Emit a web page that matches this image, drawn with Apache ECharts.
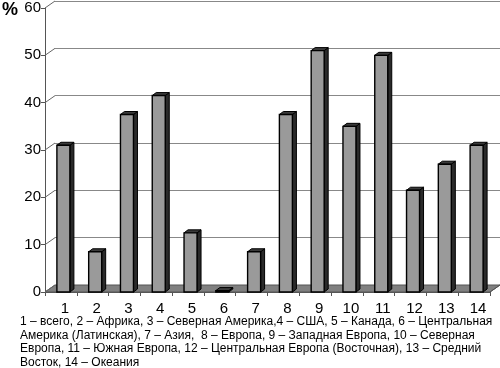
<!DOCTYPE html>
<html>
<head>
<meta charset="utf-8">
<script src="https://cdn.jsdelivr.net/npm/echarts@6/dist/echarts.min.js"></script>
<style>
html,body{margin:0;padding:0;background:#fff;}
#chart{width:500px;height:368px;}
</style>
</head>
<body>
<div id="chart"></div>
<script>
var categories = ['1','2','3','4','5','6','7','8','9','10','11','12','13','14'];
var values = [31, 8.5, 37.5, 41.5, 12.5, 0.3, 8.5, 37.5, 51, 35, 50, 21.5, 27, 31];
var yTicks = [0, 10, 20, 30, 40, 50, 60];
var captionLines = [
  '1 – всего, 2 – Африка, 3 – Северная Америка,4 – США, 5 – Канада, 6 – Центральная',
  'Америка (Латинская), 7 – Азия,  8 – Европа, 9 – Западная Европа, 10 – Северная',
  'Европа, 11 – Южная Европа, 12 – Центральная Европа (Восточная), 13 – Средний',
  'Восток, 14 – Океания'
];

var DX = 10, DY = 7; // depth offset of back wall
var FONT = 'Liberation Sans, Arial, sans-serif';

var chart = echarts.init(document.getElementById('chart'), null, {renderer: 'canvas'});

function barItem(params, api) {
  var top = api.coord([api.value(0), api.value(1)]);
  var bot = api.coord([api.value(0), 0]);
  var cx = top[0] + 2.5;
  var w = 13, d = 4, h = 3;
  var x0 = cx - w / 2, x1 = cx + w / 2;
  var yt = top[1], yb = bot[1];
  return {
    type: 'group',
    children: [
      {type: 'polygon', shape: {points: [[x1, yt], [x1 + d, yt - h], [x1 + d, yb - h], [x1, yb]]},
        style: {fill: '#2a2a2a', stroke: '#000', lineWidth: 1}},
      {type: 'polygon', shape: {points: [[x0, yt], [x0 + d, yt - h], [x1 + d, yt - h], [x1, yt]]},
        style: {fill: '#3a3a3a', stroke: '#000', lineWidth: 1}},
      {type: 'rect', shape: {x: x0, y: yt, width: w, height: Math.max(yb - yt, 0.5)},
        style: {fill: '#9a9a9a', stroke: '#000', lineWidth: 1.4}}
    ]
  };
}

function tickConnector(params, api) {
  var p = api.coord([0, api.value(0)]);
  var x = 45;
  return {type: 'line', shape: {x1: x, y1: p[1], x2: x + DX, y2: p[1] - DY},
    style: {stroke: '#666', lineWidth: 1}};
}

var option = {
  backgroundColor: '#fff',
  animation: false,
  grid: [
    {left: 45, right: 10, top: 8, bottom: 76},
    {left: 45 + DX, right: 0, top: 8 - DY, bottom: 76 + DY}
  ],
  xAxis: [
    {type: 'category', gridIndex: 0, data: categories,
      axisLine: {show: true, lineStyle: {color: '#555', width: 1}},
      axisTick: {show: true, length: 4, lineStyle: {color: '#555'}},
      axisLabel: {color: '#000', fontSize: 15, fontFamily: FONT, margin: 9, padding: [0, 0, 0, 8]}},
    {type: 'category', gridIndex: 1, data: categories, show: false}
  ],
  yAxis: [
    {type: 'value', gridIndex: 0, min: 0, max: 60, interval: 10,
      axisLine: {show: true, lineStyle: {color: '#555', width: 1}},
      axisTick: {show: true, length: 4, lineStyle: {color: '#555'}},
      axisLabel: {color: '#000', fontSize: 15, fontFamily: FONT, margin: 4},
      splitLine: {show: false}},
    {type: 'value', gridIndex: 1, min: 0, max: 60, interval: 10,
      axisLine: {show: false}, axisTick: {show: false}, axisLabel: {show: false},
      splitLine: {show: true, lineStyle: {color: '#888', width: 1}}}
  ],
  series: [
    {type: 'custom', xAxisIndex: 0, yAxisIndex: 0, data: yTicks.map(function (v) { return [v]; }),
      renderItem: tickConnector, z: 1, silent: true},
    {type: 'custom', xAxisIndex: 0, yAxisIndex: 0,
      data: values.map(function (v, i) { return [i, v]; }),
      renderItem: barItem, z: 5}
  ]
};
chart.setOption(option);

// floor of the 3D plot, from the axis extremes
var pL = 45, pR = 490, yF = chart.convertToPixel({yAxisIndex: 0}, 0);
chart.setOption({
  graphic: [
    {type: 'text', left: 2, top: 1, style: {text: '%', font: 'bold 18px ' + FONT, fill: '#000'}},
    {type: 'text', left: 20, top: 315, style: {text: captionLines.join('\n'), font: '12px ' + FONT, fill: '#000', lineHeight: 13.6}},
    {type: 'polygon', z: 0, shape: {points: [[pL, yF], [pR, yF], [pR + DX, yF - DY], [pL + DX, yF - DY]]},
      style: {fill: '#808080', stroke: '#555', lineWidth: 1}},
    {type: 'line', shape: {x1: pR, y1: yF, x2: pR + DX, y2: yF - DY}, style: {stroke: '#555', lineWidth: 1}}
  ]
});
</script>
</body>
</html>
